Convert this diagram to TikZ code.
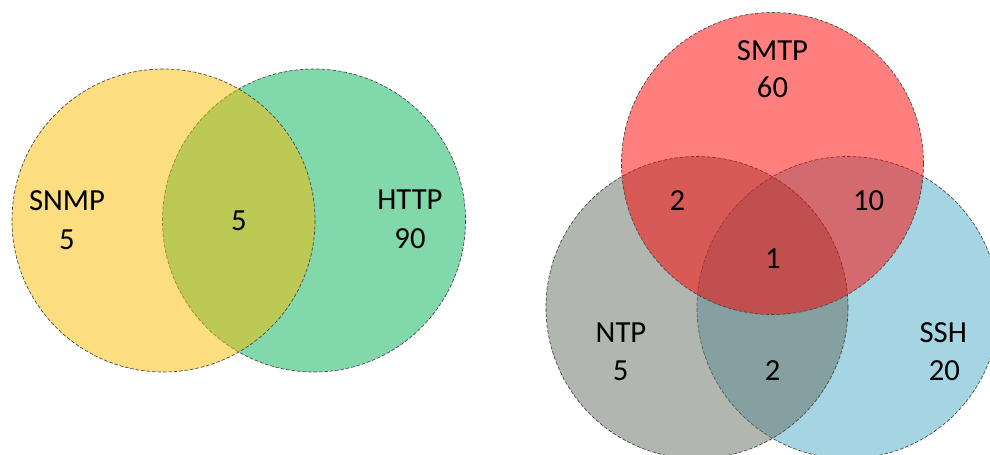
\documentclass[tikz,border=0pt]{standalone}
\usepackage{fontspec}
\setmainfont{Carlito}
\definecolor{setyellow}{RGB}{249,187,1}
\definecolor{setgreen}{RGB}{1,177,87}
\definecolor{setred}{RGB}{255,0,0}
\definecolor{setgray}{RGB}{99,109,97}
\definecolor{setblue}{RGB}{75,171,197}
\definecolor{rim}{RGB}{70,70,70}
\begin{document}
\begin{tikzpicture}[x=0.75pt,y=-0.75pt,
  setcircle/.style={fill opacity=0.5, draw=rim, line width=0.5pt, dash pattern=on 2.7pt off 1.4pt},
  lbl/.style={anchor=base, inner sep=0pt, font=\fontsize{23}{27}\selectfont}]
\useasboundingbox (0,0) rectangle (990,454);
\begin{scope}
\clip (0,0) rectangle (990,454);
% two-set diagram
\path[setcircle, fill=setgreen] (314,220.5) circle[radius=151.5];
\path[setcircle, fill=setyellow] (163.5,220.5) circle[radius=151.5];
% three-set diagram
\path[setcircle, fill=setblue] (848,307.5) circle[radius=151];
\path[setcircle, fill=setgray] (697,307.5) circle[radius=151];
\path[setcircle, fill=setred] (772.5,163.5) circle[radius=151];
\end{scope}
% labels
\node[lbl] (snmp) at (67,210.7) {SNMP};
\node[lbl] (snmpn) at (67,249) {5};
\node[lbl] (both) at (239,230) {5};
\node[lbl] (http) at (410,209.5) {HTTP};
\node[lbl] (httpn) at (410,248) {90};
\node[lbl] (smtp) at (772.5,60) {SMTP};
\node[lbl] (smtpn) at (772.5,97.3) {60};
\node[lbl] (smtpntp) at (677.5,210.7) {2};
\node[lbl] (smtpssh) at (868.7,210.7) {10};
\node[lbl] (all) at (773,268.3) {1};
\node[lbl] (ntp) at (621,342.3) {NTP};
\node[lbl] (ntpn) at (620.7,380.7) {5};
\node[lbl] (ntpssh) at (772.7,380.7) {2};
\node[lbl] (ssh) at (943.3,342.3) {SSH};
\node[lbl] (sshn) at (944.3,380.7) {20};
\end{tikzpicture}
\end{document}
